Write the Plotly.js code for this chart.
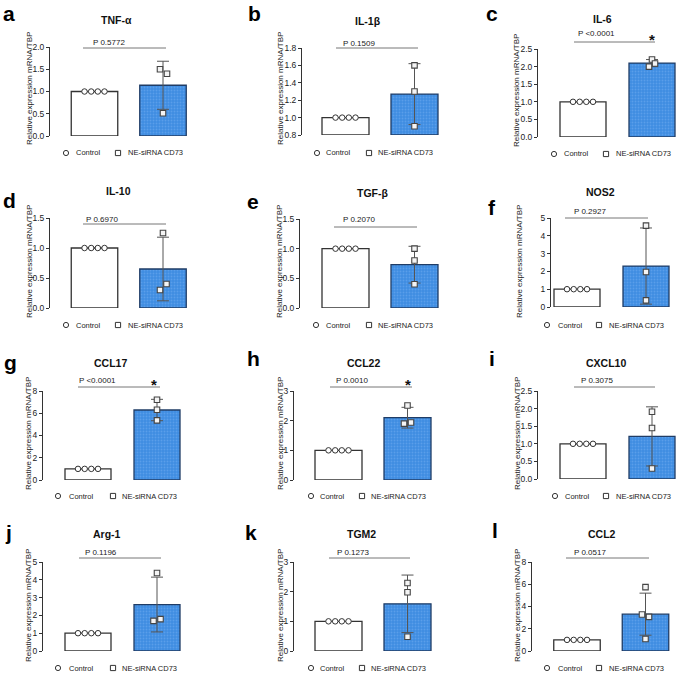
<!DOCTYPE html>
<html><head><meta charset="utf-8">
<script src="https://cdn.plot.ly/plotly-3.0.1.min.js"></script>
<style>html,body{margin:0;padding:0;background:#fff}</style>
</head><body><div id="chart" style="width:677px;height:673px"></div>
<script>
// ---------------- DATA ----------------
const genes = ['TNF-α','IL-1β','IL-6','IL-10','TGF-β','NOS2','CCL17','CCL22','CXCL10','Arg-1','TGM2','CCL2'];
const panelLetters = ['a','b','c','d','e','f','g','h','i','j','k','l'];
const groups = ['Control','NE-siRNA CD73'];
const controlMean = [1,1,1,1,1,1,1,1,1,1,1,1];
const controlPoints = [[1,1,1,1],[1,1,1,1],[1,1,1,1],[1,1,1,1],[1,1,1,1],[1,1,1,1],[1,1,1,1],[1,1,1,1],[1,1,1,1],[1,1,1,1],[1,1,1,1],[1,1,1,1]];
const neMean = [1.14,1.27,2.10,0.65,0.73,2.30,6.29,2.10,1.21,2.61,1.59,3.31];
const neSD   = [0.54,0.35,0.10,0.53,0.31,2.14,0.96,0.35,0.84,1.54,0.97,1.89];
const nePoints = [[1.50,1.40,0.51],[1.60,1.30,0.90],[2.20,2.09,2.00],[1.25,0.40,0.30],[1.00,0.80,0.40],[4.57,1.97,0.37],[7.22,6.32,5.36],[2.51,1.90,1.94],[1.91,1.45,0.30],[4.38,1.69,1.79],[2.29,1.98,0.48],[5.74,3.28,3.07,1.08]];
const pLabels = ['P 0.5772','P 0.1509','P <0.0001','P 0.6970','P 0.2070','P 0.2927','P <0.0001','P 0.0010','P 0.3075','P 0.1196','P 0.1273','P 0.0517'];
const significant = [false,false,true,false,false,false,true,true,false,false,false,false];
const yRanges = [[0,2],[0.8,1.8],[0,2.5],[0,1.5],[0,1.5],[0,5],[0,8],[0,3],[0,2.5],[0,5],[0,3],[0,8]];
const yDtick = [0.5,0.2,0.5,0.5,0.5,1,2,1,0.5,1,1,2];
const yTitle = 'Relative expression mRNA/TBP';

// ---------------- LAYOUT (pixel geometry) ----------------
const W = 677, H = 673;
const X = px => px / W;
const Y = py => 1 - py / H;
const geo = [
 {ax:50, c0:[71,118], c1:[140,186], y0:136, yt:47},
 {ax:302, c0:[322,369], c1:[391,438], y0:135, yt:48},
 {ax:538, c0:[560,606], c1:[629,675], y0:137, yt:49},
 {ax:50, c0:[71,118], c1:[140,186], y0:308, yt:218},
 {ax:300, c0:[322,369], c1:[391,438], y0:308, yt:219},
 {ax:551, c0:[554,600], c1:[623,669], y0:307, yt:218},
 {ax:43, c0:[65,111], c1:[134,180], y0:480, yt:391},
 {ax:294, c0:[315,362], c1:[384,431], y0:480, yt:391},
 {ax:538, c0:[560,606], c1:[629,675], y0:479, yt:391},
 {ax:43, c0:[65,111], c1:[134,180], y0:651, yt:562},
 {ax:294, c0:[315,362], c1:[384,431], y0:651, yt:562},
 {ax:532, c0:[554,600], c1:[622,669], y0:651, yt:562}
];
const titlePos = [[117,20],[368,21],[602,19],[118,191],[372,193],[600,192],[110,363],[363,363],[606,363],[107,534],[361,534],[602,534]];
const letterPos = [[9,13],[254,13],[492,13],[9,200],[253,201],[492,207],[10,362],[253,358],[492,358],[8,532],[251,532],[495,530]];
const pTextPos = [[91,42],[341,43],[576,33],[84,220],[341,220],[572,211],[77,380],[334,380],[579,380],[83,552],[335,552],[572,552]];
const pLine = [[83,166,48],[336,418,48],[574,655,42],[83,166,224],[334,417,227],[565,648,218],[78,160,387],[330,412,387],[574,655,387],[79,161,558],[329,410,558],[566,649,558]];
const starPos = {2:[652,36],6:[154,381],7:[408,381]};
const legendPos = [[153,66,74,118,126],[153,317,324,369,376],[154,554,562,606,614],[325,66,74,118,126],[325,316,324,369,376],[325,547,556,599,607],[496,58,67,113,120],[496,311,318,362,369],[496,555,563,606,614],[668,58,67,113,120],[668,311,318,362,369],[668,547,556,599,607]];
const yTitlePos = [[30,89],[281,89],[517,91],[30,262],[280,262],[520,262],[28,434],[280,434],[517,434],[28,606],[280,606],[517,606]];
const ctrlJitterPx = [-10,-3.3,3.3,10];
const neJitterPx = [[-3,4,0],[0,0,0],[0,3,-3],[0,3.5,-3],[0,0,0],[0,0,0],[0,0,0],[0,-3.5,3.5],[0,0,0],[0,-3.5,3.5],[0,0,0],[0,-3.5,3.5,0]];

const FONT = 'Arial, "Liberation Sans", sans-serif';
const BLUE = '#3f8de2', BLUE_EDGE = '#1f3c66';

const traces = [];
const layout = {
  width: W, height: H, margin: {l:0,r:0,t:0,b:0},
  paper_bgcolor: '#fff', plot_bgcolor: 'rgba(0,0,0,0)',
  showlegend: false, barmode: 'overlay',
  font: {family: FONT, color: '#222'},
  annotations: [], shapes: []
};

genes.forEach((g, i) => {
  const G = geo[i];
  const n = i === 0 ? '' : String(i + 1);
  const xa = 'x' + n, ya = 'y' + n;
  const c0 = (G.c0[0] + G.c0[1]) / 2, c1 = (G.c1[0] + G.c1[1]) / 2;
  const unit = c1 - c0;
  const bw = ((G.c0[1] - G.c0[0]) + (G.c1[1] - G.c1[0])) / 2 / unit;
  const right = Math.min(W, G.c1[1] + 2);
  layout['xaxis' + n] = {
    domain: [X(G.ax), X(right)], range: [(G.ax - c0) / unit, (right - c0) / unit],
    visible: false, fixedrange: true, anchor: ya
  };
  const base = yRanges[i][0];
  layout['yaxis' + n] = {
    domain: [Y(G.y0), Y(G.yt)], range: yRanges[i], anchor: xa,
    dtick: yDtick[i], tick0: base, tickformat: yDtick[i] < 1 ? '.1f' : 'd',
    showline: true, linecolor: '#333', linewidth: 1,
    ticks: 'outside', ticklen: 3, tickcolor: '#333', tickwidth: 1,
    showgrid: false, zeroline: false,
    tickfont: {size: 8.5, color: '#222', family: FONT}, fixedrange: true
  };
  // bars
  traces.push({type:'bar', x:[0], y:[controlMean[i] - base], base:[base], width:bw,
    xaxis:xa, yaxis:ya, marker:{color:'#fff', line:{color:'#333', width:1.3}}, hoverinfo:'skip'});
  traces.push({type:'bar', x:[1], y:[neMean[i] - base], base:[base], width:bw,
    xaxis:xa, yaxis:ya,
    marker:{color:BLUE, line:{color:BLUE_EDGE, width:1.3},
      pattern:{shape:'.', bgcolor:BLUE, fgcolor:'#5a9eea', size:3, solidity:0.3}},
    error_y:{type:'data', array:[neSD[i]], visible:true, color:'#555', thickness:1, width:6},
    hoverinfo:'skip'});
  // points
  traces.push({type:'scatter', mode:'markers', xaxis:xa, yaxis:ya, cliponaxis:false,
    x: controlPoints[i].map((v, k) => 0 + ctrlJitterPx[k] / unit), y: controlPoints[i],
    marker:{symbol:'circle', size:5.5, color:'#fff', line:{color:'#333', width:1}}, hoverinfo:'skip'});
  traces.push({type:'scatter', mode:'markers', xaxis:xa, yaxis:ya, cliponaxis:false,
    x: nePoints[i].map((v, k) => 1 + neJitterPx[i][k] / unit), y: nePoints[i],
    marker:{symbol:'square', size:5.5, color:'#f4f4f4', line:{color:'#444', width:1.1}}, hoverinfo:'skip'});

  // title
  layout.annotations.push({xref:'paper', yref:'paper', x:X(titlePos[i][0]), y:Y(titlePos[i][1]),
    xanchor:'center', yanchor:'middle', showarrow:false,
    text:'<b>' + g + '</b>', font:{size:10.5, color:'#111', family:FONT}});
  // letter
  layout.annotations.push({xref:'paper', yref:'paper', x:X(letterPos[i][0]), y:Y(letterPos[i][1]),
    xanchor:'center', yanchor:'middle', showarrow:false,
    text:'<b>' + panelLetters[i] + '</b>', font:{size:21, color:'#000', family:FONT}});
  // y title
  layout.annotations.push({xref:'paper', yref:'paper', x:X(yTitlePos[i][0]), y:Y(yTitlePos[i][1]),
    xanchor:'center', yanchor:'middle', showarrow:false, textangle:-90,
    text:yTitle, font:{size:8, color:'#222', family:FONT}});
  // p value
  layout.annotations.push({xref:'paper', yref:'paper', x:X(pTextPos[i][0]), y:Y(pTextPos[i][1]),
    xanchor:'left', yanchor:'middle', showarrow:false,
    text:pLabels[i], font:{size:8, color:'#222', family:FONT}});
  layout.shapes.push({type:'line', xref:'paper', yref:'paper',
    x0:X(pLine[i][0]), x1:X(pLine[i][1]), y0:Y(pLine[i][2]), y1:Y(pLine[i][2]),
    line:{color:'#777', width:1}});
  if (significant[i]) {
    const s = starPos[i];
    layout.annotations.push({xref:'paper', yref:'paper', x:X(s[0]), y:Y(s[1] + 3),
      xanchor:'center', yanchor:'middle', showarrow:false,
      text:'<b>*</b>', font:{size:15, color:'#111', family:FONT}});
  }
  // legend
  const L = legendPos[i];
  layout.shapes.push({type:'circle', xref:'paper', yref:'paper',
    x0:X(L[1]-2.6), x1:X(L[1]+2.6), y0:Y(L[0]+2.6), y1:Y(L[0]-2.6),
    line:{color:'#333', width:1}, fillcolor:'#fff'});
  layout.shapes.push({type:'rect', xref:'paper', yref:'paper',
    x0:X(L[3]-2.6), x1:X(L[3]+2.6), y0:Y(L[0]+2.6), y1:Y(L[0]-2.6),
    line:{color:'#333', width:1}, fillcolor:'#fff'});
  layout.annotations.push({xref:'paper', yref:'paper', x:X(L[2]), y:Y(L[0]),
    xanchor:'left', yanchor:'middle', showarrow:false,
    text:groups[0], font:{size:7.5, color:'#222', family:FONT}});
  layout.annotations.push({xref:'paper', yref:'paper', x:X(L[4]), y:Y(L[0]),
    xanchor:'left', yanchor:'middle', showarrow:false,
    text:groups[1], font:{size:7.5, color:'#222', family:FONT}});
});

Plotly.newPlot('chart', traces, layout, {staticPlot:true, displayModeBar:false});
</script></body></html>
